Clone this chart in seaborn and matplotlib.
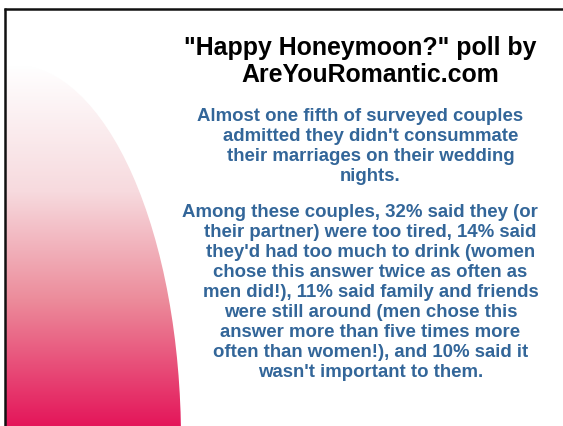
import numpy as np
import matplotlib
matplotlib.use("Agg")
import matplotlib.pyplot as plt
from matplotlib.patches import Ellipse
from matplotlib.colors import LinearSegmentedColormap
import seaborn as sns

# --- SLIDE CONTENT ---
TITLE_LINES = ['"Happy Honeymoon?" poll by', 'AreYouRomantic.com']
PARA1_LINES = [
    "Almost one fifth of surveyed couples",
    "admitted they didn't consummate",
    "their marriages on their wedding",
    "nights.",
]
PARA2_LINES = [
    "Among these couples, 32% said they (or",
    "their partner) were too tired, 14% said",
    "they'd had too much to drink (women",
    "chose this answer twice as often as",
    "men did!), 11% said family and friends",
    "were still around (men chose this",
    "answer more than five times more",
    "often than women!), and 10% said it",
    "wasn't important to them.",
]

# --- STYLE ---
W, H = 563, 426
TITLE_COLOR = "black"
BODY_COLOR = "#336699"
FONT = ["Liberation Sans", "DejaVu Sans"]

sns.set_theme(style="white")
plt.rcParams["font.family"] = FONT

fig = plt.figure(figsize=(W / 100, H / 100), dpi=100)
ax = fig.add_axes([0, 0, 1, 1])
ax.set_xlim(0, W)
ax.set_ylim(H, 0)
ax.axis("off")

# pink gradient shape on the left (quarter ellipse)
grad = LinearSegmentedColormap.from_list(
    "pinkfade",
    [(0.0, "#ffffff"), (0.35, "#f7dade"), (0.65, "#ec8c9b"), (1.0, "#e4165a")],
)
y0, y1 = 65, H
ys = np.linspace(0, 1, 256).reshape(-1, 1)
img = ax.imshow(ys, cmap=grad, extent=[5, 190, y1, y0], aspect="auto", zorder=1)
shape = Ellipse((15, 440), 2 * 166, 2 * 375, transform=ax.transData,
                facecolor="none", edgecolor="none")
ax.add_patch(shape)
img.set_clip_path(shape)

# border lines (top and left)
ax.plot([4, W], [8.6, 8.6], color="#111111", lw=1.8, zorder=3, solid_capstyle="butt")
ax.plot([4.6, 4.6], [8, H], color="#111111", lw=1.8, zorder=3, solid_capstyle="butt")

# title
title_y = [55, 82]
title_x = [360, 370]
for txt, x, y in zip(TITLE_LINES, title_x, title_y):
    ax.text(x, y, txt, ha="center", va="baseline", fontsize=17.9,
            fontweight="bold", color=TITLE_COLOR, zorder=4)

# paragraphs with hanging indent: first line a bit left
def draw_para(lines, y_start, step=20.2):
    for i, txt in enumerate(lines):
        x = 360 if i == 0 else 370.5
        ax.text(x, y_start + i * step, txt, ha="center", va="baseline",
                fontsize=13.4, fontweight="bold", color=BODY_COLOR, zorder=4)

draw_para(PARA1_LINES, 120.7)
draw_para(PARA2_LINES, 216.7, step=20.0)

fig.savefig("out.png", dpi=100)
